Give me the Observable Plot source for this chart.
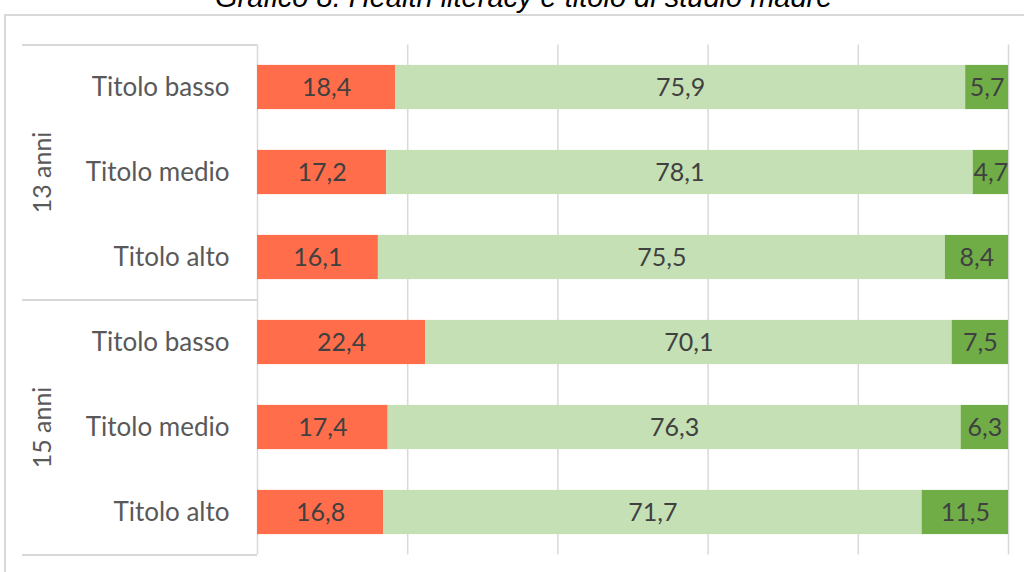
<!DOCTYPE html>
<html>
<head>
<meta charset="utf-8">
<script src="https://cdn.jsdelivr.net/npm/d3@7"></script>
<script src="https://cdn.jsdelivr.net/npm/@observablehq/plot@0.6"></script>
<style>
  html, body { margin: 0; padding: 0; background: #fff; overflow: hidden; }
  #wrap { position: relative; width: 1024px; height: 572px; overflow: hidden; }
  #frame { position: absolute; left: 4px; top: 14px; width: 1100px; height: 600px;
           border-top: 2px solid #d9d9d9; border-left: 2px solid #d9d9d9; }
  #title { position: absolute; left: 215px; top: -17px; white-space: nowrap;
           font: italic 29px/29px "Liberation Sans", Arial, sans-serif; color: #000; }
  #chart { position: absolute; left: 0; top: 15px; }
</style>
</head>
<body>
<div id="wrap">
  <div id="frame"></div>
  <div id="title">Grafico 8. Health literacy e titolo di studio madre</div>
  <div id="chart"></div>
</div>
<script>
// ---- data ----
const groups = ["13 anni", "15 anni"];
const levels = ["Titolo basso", "Titolo medio", "Titolo alto"];
const seriesNames = ["Bassa", "Moderata", "Alta"];
const bassa    = [18.4, 17.2, 16.1, 22.4, 17.4, 16.8];
const moderata = [75.9, 78.1, 75.5, 70.1, 76.3, 71.7];
const alta     = [5.7, 4.7, 8.4, 7.5, 6.3, 11.5];
const gridTicks = [0, 20, 40, 60, 80, 100];
const seriesColors = ["#FF6D4A", "#C5E0B4", "#70AD47"];

// ---- build table ----
const keys = [];
groups.forEach(g => levels.forEach(l => keys.push(g + "|" + l)));
const valuesBySeries = [bassa, moderata, alta];
const rows = [];
seriesNames.forEach((s, si) => {
  keys.forEach((k, i) => rows.push({key: k, series: s, value: valuesBySeries[si][i]}));
});
const fmt = v => v.toFixed(1).replace(".", ",");

// ---- layout ----
const W = 1024, H = 557, mT = 29.5, mB = 17.5, mL = 257, mR = 16;
const step = (H - mT - mB) / keys.length;

const groupStarts = groups.map(g => g + "|" + levels[0]);
const lastKey = [keys[keys.length - 1]];
const groupMids = groups.map(g => ({g, key: g + "|" + levels[1]}));

const chart = Plot.plot({
  width: W, height: H,
  marginTop: mT, marginBottom: mB, marginLeft: mL, marginRight: mR,
  style: {background: "transparent", fontFamily: "Lato, sans-serif", fontSize: "26px", color: "#595959"},
  x: {domain: [0, 100], axis: null},
  y: {domain: keys, paddingInner: 0.48, paddingOuter: 0.24, round: false,
      tickFormat: k => k.split("|")[1], tickSize: 0, tickPadding: 28, label: null},
  color: {domain: seriesNames, range: seriesColors},
  marks: [
    Plot.ruleX(gridTicks, {stroke: "#d9d9d9", strokeWidth: 1.5}),
    Plot.ruleY(groupStarts, {y: d => d, dy: -step / 2, insetLeft: -(mL - 22), insetRight: W - mL - mR, stroke: "#d9d9d9", strokeWidth: 2}),
    Plot.ruleY(lastKey, {y: d => d, dy: step / 2, insetLeft: -(mL - 22), insetRight: W - mL - mR, stroke: "#d9d9d9", strokeWidth: 2}),
    Plot.barX(rows, Plot.stackX({x: "value", y: "key", fill: "series"})),
    Plot.text(rows, Plot.stackX({x: "value", y: "key", text: d => fmt(d.value), fill: "#404040", fontSize: 25})),
    Plot.text(groupMids, {y: "key", text: "g", rotate: -90, frameAnchor: "left", textAnchor: "middle",
                          dx: -(mL - 42), fill: "#595959", fontSize: 25})
  ]
});
document.getElementById("chart").appendChild(chart);
</script>
</body>
</html>
